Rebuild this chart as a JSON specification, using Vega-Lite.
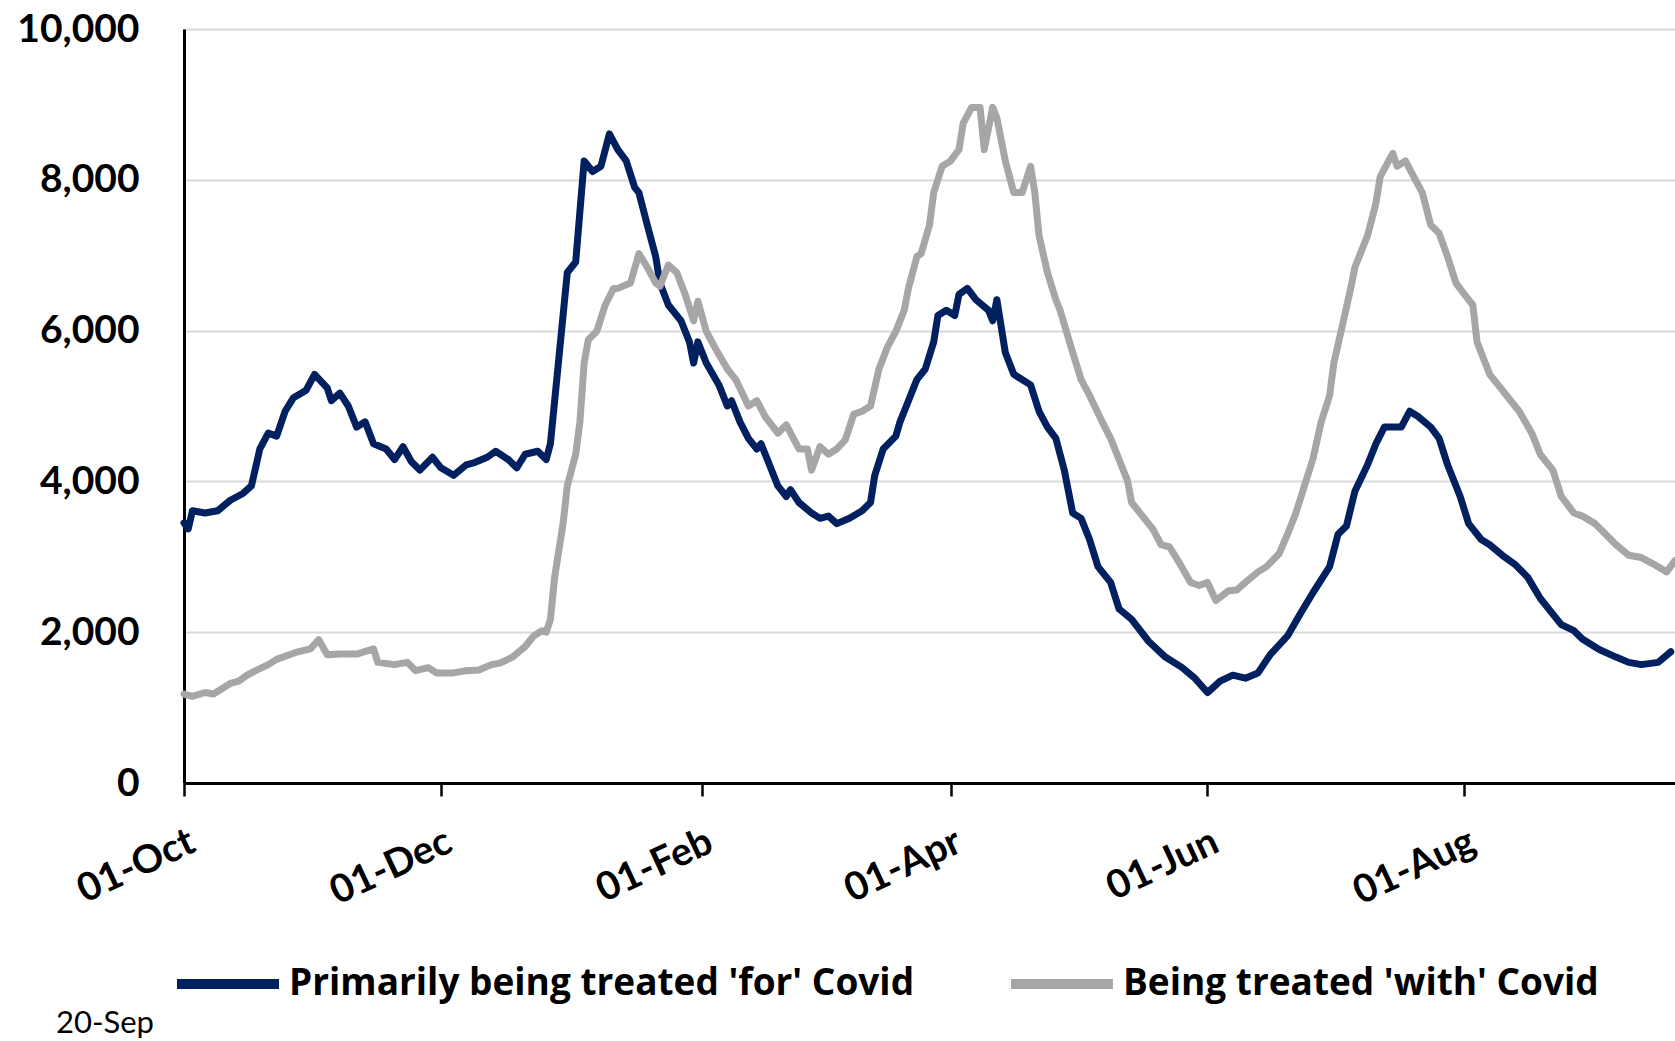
{
  "$schema": "https://vega.github.io/schema/vega-lite/v6.json",
  "width": 1491,
  "height": 754,
  "autosize": {"type": "none"},
  "padding": {"left": 184, "top": 29, "right": 0, "bottom": 258},
  "background": "white",
  "title": {"text": "20-Sep", "orient": "bottom", "anchor": "start", "frame": "group", "dx": -128, "offset": 5, "font": "Lato", "fontSize": 31, "fontWeight": "normal", "color": "#000000"},
  "datasets": {
    "for": [
      {"date": "2021-10-01", "value": 3450}, {"date": "2021-10-02", "value": 3370}, {"date": "2021-10-03", "value": 3610},
      {"date": "2021-10-06", "value": 3580}, {"date": "2021-10-09", "value": 3610}, {"date": "2021-10-12", "value": 3750},
      {"date": "2021-10-15", "value": 3840}, {"date": "2021-10-17", "value": 3940}, {"date": "2021-10-19", "value": 4430},
      {"date": "2021-10-21", "value": 4640}, {"date": "2021-10-23", "value": 4600}, {"date": "2021-10-25", "value": 4930},
      {"date": "2021-10-27", "value": 5110}, {"date": "2021-10-30", "value": 5210}, {"date": "2021-11-01", "value": 5420},
      {"date": "2021-11-04", "value": 5240}, {"date": "2021-11-05", "value": 5070}, {"date": "2021-11-07", "value": 5170},
      {"date": "2021-11-09", "value": 5000}, {"date": "2021-11-11", "value": 4720}, {"date": "2021-11-13", "value": 4790},
      {"date": "2021-11-15", "value": 4500}, {"date": "2021-11-18", "value": 4430}, {"date": "2021-11-20", "value": 4290},
      {"date": "2021-11-22", "value": 4460}, {"date": "2021-11-24", "value": 4260}, {"date": "2021-11-26", "value": 4150},
      {"date": "2021-11-29", "value": 4320}, {"date": "2021-12-01", "value": 4180}, {"date": "2021-12-04", "value": 4080},
      {"date": "2021-12-07", "value": 4220}, {"date": "2021-12-09", "value": 4250}, {"date": "2021-12-12", "value": 4320},
      {"date": "2021-12-14", "value": 4400}, {"date": "2021-12-17", "value": 4290}, {"date": "2021-12-19", "value": 4180},
      {"date": "2021-12-21", "value": 4360}, {"date": "2021-12-24", "value": 4400}, {"date": "2021-12-26", "value": 4290},
      {"date": "2021-12-27", "value": 4500}, {"date": "2021-12-31", "value": 6770}, {"date": "2022-01-02", "value": 6910},
      {"date": "2022-01-04", "value": 8250}, {"date": "2022-01-06", "value": 8110}, {"date": "2022-01-08", "value": 8180},
      {"date": "2022-01-10", "value": 8610}, {"date": "2022-01-12", "value": 8400}, {"date": "2022-01-14", "value": 8250},
      {"date": "2022-01-16", "value": 7900}, {"date": "2022-01-17", "value": 7830}, {"date": "2022-01-19", "value": 7400},
      {"date": "2022-01-21", "value": 6980}, {"date": "2022-01-22", "value": 6630}, {"date": "2022-01-24", "value": 6340},
      {"date": "2022-01-27", "value": 6130}, {"date": "2022-01-29", "value": 5850}, {"date": "2022-01-30", "value": 5570},
      {"date": "2022-01-31", "value": 5850}, {"date": "2022-02-02", "value": 5570}, {"date": "2022-02-05", "value": 5280},
      {"date": "2022-02-07", "value": 5000}, {"date": "2022-02-08", "value": 5070}, {"date": "2022-02-10", "value": 4790},
      {"date": "2022-02-12", "value": 4570}, {"date": "2022-02-14", "value": 4430}, {"date": "2022-02-15", "value": 4500},
      {"date": "2022-02-17", "value": 4220}, {"date": "2022-02-19", "value": 3940}, {"date": "2022-02-21", "value": 3800},
      {"date": "2022-02-22", "value": 3890}, {"date": "2022-02-24", "value": 3720}, {"date": "2022-02-27", "value": 3580},
      {"date": "2022-03-01", "value": 3510}, {"date": "2022-03-03", "value": 3540}, {"date": "2022-03-05", "value": 3440},
      {"date": "2022-03-08", "value": 3510}, {"date": "2022-03-11", "value": 3610}, {"date": "2022-03-13", "value": 3720},
      {"date": "2022-03-14", "value": 4080}, {"date": "2022-03-16", "value": 4430}, {"date": "2022-03-19", "value": 4600},
      {"date": "2022-03-20", "value": 4790}, {"date": "2022-03-22", "value": 5070}, {"date": "2022-03-24", "value": 5350},
      {"date": "2022-03-26", "value": 5490}, {"date": "2022-03-28", "value": 5850}, {"date": "2022-03-29", "value": 6200},
      {"date": "2022-03-31", "value": 6270}, {"date": "2022-04-02", "value": 6200}, {"date": "2022-04-03", "value": 6480},
      {"date": "2022-04-05", "value": 6560}, {"date": "2022-04-07", "value": 6410}, {"date": "2022-04-10", "value": 6270},
      {"date": "2022-04-11", "value": 6130}, {"date": "2022-04-12", "value": 6410}, {"date": "2022-04-14", "value": 5710},
      {"date": "2022-04-16", "value": 5420}, {"date": "2022-04-20", "value": 5280}, {"date": "2022-04-22", "value": 4930},
      {"date": "2022-04-24", "value": 4720}, {"date": "2022-04-26", "value": 4570}, {"date": "2022-04-28", "value": 4150},
      {"date": "2022-04-30", "value": 3580}, {"date": "2022-05-02", "value": 3510}, {"date": "2022-05-04", "value": 3230},
      {"date": "2022-05-06", "value": 2870}, {"date": "2022-05-09", "value": 2660}, {"date": "2022-05-11", "value": 2310},
      {"date": "2022-05-14", "value": 2170}, {"date": "2022-05-18", "value": 1880}, {"date": "2022-05-22", "value": 1670},
      {"date": "2022-05-26", "value": 1530}, {"date": "2022-05-29", "value": 1390}, {"date": "2022-06-01", "value": 1200},
      {"date": "2022-06-04", "value": 1350}, {"date": "2022-06-07", "value": 1430}, {"date": "2022-06-10", "value": 1390},
      {"date": "2022-06-13", "value": 1460}, {"date": "2022-06-16", "value": 1710}, {"date": "2022-06-20", "value": 1950},
      {"date": "2022-06-23", "value": 2240}, {"date": "2022-06-26", "value": 2520}, {"date": "2022-06-30", "value": 2870},
      {"date": "2022-07-02", "value": 3300}, {"date": "2022-07-04", "value": 3410}, {"date": "2022-07-06", "value": 3870},
      {"date": "2022-07-09", "value": 4220}, {"date": "2022-07-11", "value": 4500}, {"date": "2022-07-13", "value": 4720},
      {"date": "2022-07-17", "value": 4720}, {"date": "2022-07-19", "value": 4930}, {"date": "2022-07-21", "value": 4860},
      {"date": "2022-07-24", "value": 4720}, {"date": "2022-07-26", "value": 4570}, {"date": "2022-07-28", "value": 4220},
      {"date": "2022-07-31", "value": 3800}, {"date": "2022-08-02", "value": 3440}, {"date": "2022-08-05", "value": 3230},
      {"date": "2022-08-07", "value": 3160}, {"date": "2022-08-10", "value": 3020}, {"date": "2022-08-13", "value": 2900},
      {"date": "2022-08-16", "value": 2730}, {"date": "2022-08-19", "value": 2450}, {"date": "2022-08-21", "value": 2310},
      {"date": "2022-08-24", "value": 2100}, {"date": "2022-08-27", "value": 2020}, {"date": "2022-08-29", "value": 1910},
      {"date": "2022-09-02", "value": 1770}, {"date": "2022-09-06", "value": 1670}, {"date": "2022-09-09", "value": 1600},
      {"date": "2022-09-12", "value": 1570}, {"date": "2022-09-16", "value": 1600}, {"date": "2022-09-19", "value": 1740}
    ],
    "with": [
      {"date": "2021-10-01", "value": 1180}, {"date": "2021-10-03", "value": 1150}, {"date": "2021-10-06", "value": 1200},
      {"date": "2021-10-08", "value": 1180}, {"date": "2021-10-10", "value": 1250}, {"date": "2021-10-12", "value": 1320},
      {"date": "2021-10-14", "value": 1350}, {"date": "2021-10-16", "value": 1430}, {"date": "2021-10-18", "value": 1490},
      {"date": "2021-10-21", "value": 1570}, {"date": "2021-10-23", "value": 1640}, {"date": "2021-10-26", "value": 1700},
      {"date": "2021-10-28", "value": 1740}, {"date": "2021-10-31", "value": 1780}, {"date": "2021-11-02", "value": 1900},
      {"date": "2021-11-04", "value": 1700}, {"date": "2021-11-07", "value": 1710}, {"date": "2021-11-11", "value": 1710},
      {"date": "2021-11-15", "value": 1780}, {"date": "2021-11-16", "value": 1600}, {"date": "2021-11-20", "value": 1570},
      {"date": "2021-11-23", "value": 1600}, {"date": "2021-11-25", "value": 1490}, {"date": "2021-11-28", "value": 1530},
      {"date": "2021-11-30", "value": 1460}, {"date": "2021-12-04", "value": 1460}, {"date": "2021-12-07", "value": 1490},
      {"date": "2021-12-10", "value": 1500}, {"date": "2021-12-13", "value": 1570}, {"date": "2021-12-15", "value": 1590},
      {"date": "2021-12-18", "value": 1670}, {"date": "2021-12-21", "value": 1810}, {"date": "2021-12-23", "value": 1950},
      {"date": "2021-12-25", "value": 2020}, {"date": "2021-12-26", "value": 2000}, {"date": "2021-12-27", "value": 2170},
      {"date": "2021-12-28", "value": 2730}, {"date": "2021-12-30", "value": 3440}, {"date": "2021-12-31", "value": 3940},
      {"date": "2022-01-02", "value": 4360}, {"date": "2022-01-03", "value": 4790}, {"date": "2022-01-04", "value": 5570},
      {"date": "2022-01-05", "value": 5880}, {"date": "2022-01-07", "value": 5990}, {"date": "2022-01-09", "value": 6340},
      {"date": "2022-01-11", "value": 6560}, {"date": "2022-01-12", "value": 6560}, {"date": "2022-01-15", "value": 6630},
      {"date": "2022-01-17", "value": 7020}, {"date": "2022-01-19", "value": 6840}, {"date": "2022-01-21", "value": 6630},
      {"date": "2022-01-22", "value": 6590}, {"date": "2022-01-24", "value": 6870}, {"date": "2022-01-26", "value": 6770},
      {"date": "2022-01-28", "value": 6480}, {"date": "2022-01-30", "value": 6130}, {"date": "2022-01-31", "value": 6390},
      {"date": "2022-02-02", "value": 5990}, {"date": "2022-02-04", "value": 5780}, {"date": "2022-02-07", "value": 5490},
      {"date": "2022-02-09", "value": 5350}, {"date": "2022-02-12", "value": 5000}, {"date": "2022-02-14", "value": 5070},
      {"date": "2022-02-16", "value": 4860}, {"date": "2022-02-19", "value": 4640}, {"date": "2022-02-21", "value": 4750},
      {"date": "2022-02-24", "value": 4430}, {"date": "2022-02-26", "value": 4430}, {"date": "2022-02-27", "value": 4150},
      {"date": "2022-03-01", "value": 4460}, {"date": "2022-03-03", "value": 4360}, {"date": "2022-03-05", "value": 4430},
      {"date": "2022-03-07", "value": 4550}, {"date": "2022-03-09", "value": 4890}, {"date": "2022-03-11", "value": 4930},
      {"date": "2022-03-13", "value": 5000}, {"date": "2022-03-15", "value": 5490}, {"date": "2022-03-17", "value": 5780},
      {"date": "2022-03-19", "value": 5990}, {"date": "2022-03-21", "value": 6270}, {"date": "2022-03-22", "value": 6560},
      {"date": "2022-03-24", "value": 6980}, {"date": "2022-03-25", "value": 7020}, {"date": "2022-03-27", "value": 7400},
      {"date": "2022-03-28", "value": 7830}, {"date": "2022-03-30", "value": 8180}, {"date": "2022-04-01", "value": 8250},
      {"date": "2022-04-03", "value": 8400}, {"date": "2022-04-04", "value": 8750}, {"date": "2022-04-06", "value": 8960},
      {"date": "2022-04-08", "value": 8960}, {"date": "2022-04-09", "value": 8400}, {"date": "2022-04-11", "value": 8960},
      {"date": "2022-04-12", "value": 8820}, {"date": "2022-04-14", "value": 8250}, {"date": "2022-04-16", "value": 7830},
      {"date": "2022-04-18", "value": 7830}, {"date": "2022-04-20", "value": 8180}, {"date": "2022-04-21", "value": 7830},
      {"date": "2022-04-22", "value": 7260}, {"date": "2022-04-24", "value": 6770}, {"date": "2022-04-26", "value": 6410},
      {"date": "2022-04-27", "value": 6270}, {"date": "2022-04-30", "value": 5710}, {"date": "2022-05-02", "value": 5350},
      {"date": "2022-05-04", "value": 5140}, {"date": "2022-05-07", "value": 4790}, {"date": "2022-05-09", "value": 4570},
      {"date": "2022-05-11", "value": 4290}, {"date": "2022-05-13", "value": 4010}, {"date": "2022-05-14", "value": 3720},
      {"date": "2022-05-16", "value": 3580}, {"date": "2022-05-19", "value": 3370}, {"date": "2022-05-21", "value": 3160},
      {"date": "2022-05-23", "value": 3130}, {"date": "2022-05-25", "value": 2950}, {"date": "2022-05-28", "value": 2660},
      {"date": "2022-05-30", "value": 2620}, {"date": "2022-06-01", "value": 2660}, {"date": "2022-06-03", "value": 2420},
      {"date": "2022-06-06", "value": 2550}, {"date": "2022-06-08", "value": 2560}, {"date": "2022-06-10", "value": 2660},
      {"date": "2022-06-13", "value": 2800}, {"date": "2022-06-15", "value": 2870}, {"date": "2022-06-18", "value": 3040},
      {"date": "2022-06-20", "value": 3300}, {"date": "2022-06-22", "value": 3580}, {"date": "2022-06-24", "value": 3940},
      {"date": "2022-06-26", "value": 4290}, {"date": "2022-06-28", "value": 4790}, {"date": "2022-06-30", "value": 5140},
      {"date": "2022-07-01", "value": 5570}, {"date": "2022-07-03", "value": 6060}, {"date": "2022-07-05", "value": 6560},
      {"date": "2022-07-06", "value": 6840}, {"date": "2022-07-09", "value": 7260}, {"date": "2022-07-11", "value": 7690},
      {"date": "2022-07-12", "value": 8040}, {"date": "2022-07-14", "value": 8250}, {"date": "2022-07-15", "value": 8350},
      {"date": "2022-07-16", "value": 8180}, {"date": "2022-07-18", "value": 8250}, {"date": "2022-07-20", "value": 8040},
      {"date": "2022-07-22", "value": 7830}, {"date": "2022-07-24", "value": 7400}, {"date": "2022-07-26", "value": 7290},
      {"date": "2022-07-28", "value": 6980}, {"date": "2022-07-30", "value": 6630}, {"date": "2022-08-01", "value": 6480},
      {"date": "2022-08-03", "value": 6340}, {"date": "2022-08-04", "value": 5850}, {"date": "2022-08-07", "value": 5420},
      {"date": "2022-08-09", "value": 5280}, {"date": "2022-08-12", "value": 5070}, {"date": "2022-08-14", "value": 4930},
      {"date": "2022-08-17", "value": 4640}, {"date": "2022-08-19", "value": 4360}, {"date": "2022-08-22", "value": 4150},
      {"date": "2022-08-24", "value": 3800}, {"date": "2022-08-27", "value": 3580}, {"date": "2022-08-29", "value": 3540},
      {"date": "2022-09-01", "value": 3440}, {"date": "2022-09-03", "value": 3330}, {"date": "2022-09-06", "value": 3160},
      {"date": "2022-09-09", "value": 3020}, {"date": "2022-09-12", "value": 2990}, {"date": "2022-09-15", "value": 2900},
      {"date": "2022-09-18", "value": 2800}, {"date": "2022-09-20", "value": 2950}
    ]
  },
  "encoding": {
    "x": {
      "field": "date", "type": "temporal",
      "scale": {"type": "utc", "domain": [{"year": 2021, "month": 10, "date": 1, "utc": true}, {"year": 2022, "month": 9, "date": 20, "utc": true}]},
      "axis": {
        "title": null,
        "values": [
          {"year": 2021, "month": 10, "date": 1, "utc": true},
          {"year": 2021, "month": 12, "date": 1, "utc": true},
          {"year": 2022, "month": 2, "date": 1, "utc": true},
          {"year": 2022, "month": 4, "date": 1, "utc": true},
          {"year": 2022, "month": 6, "date": 1, "utc": true},
          {"year": 2022, "month": 8, "date": 1, "utc": true}
        ],
        "format": "%d-%b",
        "labelAngle": -25, "labelAlign": "right", "labelBaseline": "top",
        "labelFont": "Lato", "labelFontSize": 39, "labelFontWeight": "bold", "labelColor": "#000000",
        "labelPadding": 26, "labelOverlap": false, "labelFlush": false,
        "domainColor": "#000000", "domainWidth": 3,
        "tickColor": "#000000", "tickWidth": 2.5, "tickSize": 13,
        "grid": false
      }
    },
    "y": {
      "field": "value", "type": "quantitative",
      "scale": {"domain": [0, 10000], "nice": false},
      "axis": {
        "title": null,
        "values": [0, 2000, 4000, 6000, 8000, 10000],
        "format": ",.0f",
        "labelFont": "Lato", "labelFontSize": 39, "labelFontWeight": "bold", "labelColor": "#000000",
        "labelPadding": 45, "ticks": false,
        "domainColor": "#000000", "domainWidth": 3,
        "grid": true, "gridColor": "#D9D9D9", "gridWidth": 2
      }
    }
  },
  "layer": [
    {
      "data": {"name": "for"},
      "mark": {"type": "line", "strokeWidth": 7, "strokeJoin": "round", "strokeCap": "round"},
      "encoding": {
        "color": {
          "datum": "Primarily being treated 'for' Covid",
          "scale": {"domain": ["Primarily being treated 'for' Covid", "Being treated 'with' Covid"], "range": ["#002060", "#A6A6A6"]},
          "legend": {
            "title": null, "orient": "none", "direction": "horizontal",
            "legendX": -12, "legendY": 899,
            "symbolType": "stroke", "symbolSize": 10400, "symbolStrokeWidth": 10,
            "labelFont": "Open Sans", "labelFontSize": 37, "labelFontWeight": "bold", "labelColor": "#000000",
            "labelOffset": 5, "columnPadding": 76, "padding": 0, "labelLimit": 1000
          }
        }
      }
    },
    {
      "data": {"name": "with"},
      "mark": {"type": "line", "strokeWidth": 7, "strokeJoin": "round", "strokeCap": "round"},
      "encoding": {
        "color": {"datum": "Being treated 'with' Covid"}
      }
    }
  ],
  "config": {"view": {"stroke": null}}
}
